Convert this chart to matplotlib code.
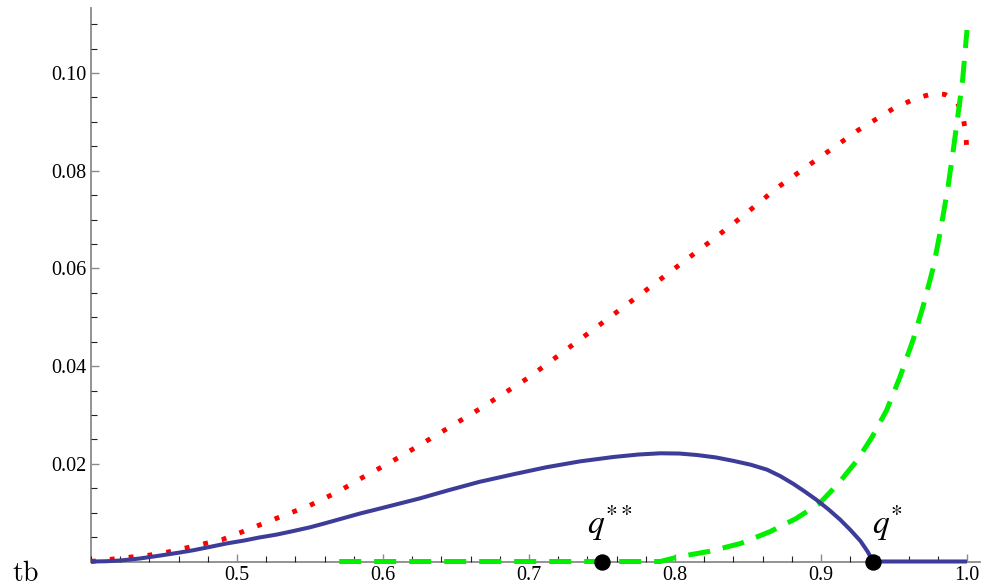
import matplotlib
matplotlib.use("Agg")
import matplotlib.pyplot as plt
from matplotlib.ticker import MultipleLocator, FixedLocator, FixedFormatter

# ── Data ──────────────────────────────────────────────────────────────────────
blue_x = [0.400, 0.410, 0.420, 0.433, 0.447, 0.460, 0.470, 0.480, 0.493, 0.505,
          0.515, 0.527, 0.538, 0.550, 0.560, 0.572, 0.584, 0.600, 0.625, 0.645,
          0.666, 0.690, 0.712, 0.735, 0.758, 0.775, 0.790, 0.803, 0.815, 0.828,
          0.840, 0.852, 0.863, 0.872, 0.881, 0.889, 0.897, 0.905, 0.913, 0.920,
          0.927, 0.932, 0.9356, 1.000]
blue_y = [0.0000, 0.00005, 0.0002, 0.0006, 0.0012, 0.0018, 0.0023, 0.0029, 0.0037, 0.0043,
          0.0049, 0.0055, 0.0062, 0.0070, 0.0078, 0.0088, 0.0098, 0.0110, 0.0129, 0.0146,
          0.0163, 0.0179, 0.0193, 0.0205, 0.0214, 0.0219, 0.02215, 0.0221, 0.0218, 0.0213,
          0.0206, 0.0198, 0.0188, 0.0175, 0.0159, 0.0143, 0.0126, 0.0107, 0.0086, 0.0065,
          0.0042, 0.0020, 0.0000, 0.0000]

red_x = [0.400, 0.427, 0.440, 0.452, 0.464, 0.477, 0.490, 0.503, 0.525, 0.550,
         0.570, 0.586, 0.605, 0.625, 0.645, 0.666, 0.700, 0.741, 0.780, 0.825,
         0.846, 0.870, 0.900, 0.925, 0.950, 0.965, 0.977, 0.985, 0.993, 0.997,
         0.999, 1.000]
red_y = [0.0000, 0.0009, 0.0013, 0.0019, 0.0027, 0.0036, 0.0045, 0.0060, 0.0086, 0.0115,
         0.0144, 0.0172, 0.0203, 0.0238, 0.0274, 0.0312, 0.0377, 0.0468, 0.0555, 0.0657,
         0.0706, 0.0765, 0.0829, 0.0882, 0.0928, 0.0948, 0.0958, 0.0956, 0.0942, 0.0915,
         0.0880, 0.0840]

green_x = [0.570, 0.700, 0.790, 0.803, 0.824, 0.845, 0.865, 0.883, 0.899, 0.912,
           0.925, 0.935, 0.945, 0.954, 0.963, 0.970, 0.977, 0.982, 0.987, 0.9905,
           0.994, 0.997, 1.000]
green_y = [0.0000, 0.0000, 0.0000, 0.0010, 0.0021, 0.0037, 0.0061, 0.0088, 0.0119, 0.0160,
           0.0208, 0.0255, 0.0310, 0.0377, 0.0453, 0.0523, 0.0603, 0.0680, 0.0767, 0.0840,
           0.0918, 0.0986, 0.1088]

points_x = [0.750, 0.9356]
points_y = [0.0, 0.0]
point_labels = [r"$q^{**}$", r"$q^{*}$"]
label_x = [0.7395, 0.9350]

x_major = [0.5, 0.6, 0.7, 0.8, 0.9, 1.0]
x_labels = ["0.5", "0.6", "0.7", "0.8", "0.9", "1.0"]
y_major = [0.02, 0.04, 0.06, 0.08, 0.10]
y_labels = ["0.02", "0.04", "0.06", "0.08", "0.10"]

BLUE = "#3d3d99"
RED = "#ff0000"
GREEN = "#00f000"
AXIS_GREY = "#8a8a8a"

plt.rcParams["mathtext.fontset"] = "stix"

fig = plt.figure(figsize=(9.81, 5.86), dpi=100)
ax = fig.add_axes([91 / 981, 24.5 / 586, (980 - 91) / 981, (561.5 - 8) / 586])

ax.set_xlim(0.4, 1.0089)
ax.set_ylim(0.0, 0.1133)

# curves
ax.plot(red_x, red_y, color=RED, lw=3.5, dashes=(1, 2.9),
        dash_capstyle="butt", clip_on=False, zorder=3)
ax.plot(green_x, green_y, color=GREEN, lw=3.6, dashes=(4.4, 2.6),
        dash_capstyle="butt", clip_on=False, zorder=3)
ax.plot(blue_x, blue_y, color=BLUE, lw=2.9, solid_capstyle="butt",
        solid_joinstyle="round", clip_on=False, zorder=4)

ax.plot(points_x, points_y, "o", color="black", ms=10.8, clip_on=False, zorder=6)
for lx, lab in zip(label_x, point_labels):
    ax.text(lx, 0.0058, lab, fontsize=24, ha="left", va="baseline", zorder=7)

# axes styling
for side in ("top", "right"):
    ax.spines[side].set_visible(False)
for side in ("left", "bottom"):
    ax.spines[side].set_color(AXIS_GREY)
    ax.spines[side].set_linewidth(1.3)
    ax.spines[side].set_zorder(1)

ax.xaxis.set_major_locator(FixedLocator(x_major))
ax.xaxis.set_major_formatter(FixedFormatter(x_labels))
ax.xaxis.set_minor_locator(MultipleLocator(0.02))
ax.yaxis.set_major_locator(FixedLocator(y_major))
ax.yaxis.set_major_formatter(FixedFormatter(y_labels))
ax.yaxis.set_minor_locator(MultipleLocator(0.005))

ax.tick_params(which="major", direction="in", length=6, width=1.0,
               color=AXIS_GREY, pad=3.5, labelsize=14.5,
               labelfontfamily="Liberation Serif")
ax.tick_params(which="minor", direction="in", length=4, width=0.8,
               color="#222222")

fig.text(12 / 981, 5 / 586, r"$\mathrm{tb}$", fontsize=20,
         ha="left", va="baseline", math_fontfamily="cm")

fig.savefig("out.png", dpi=100)
